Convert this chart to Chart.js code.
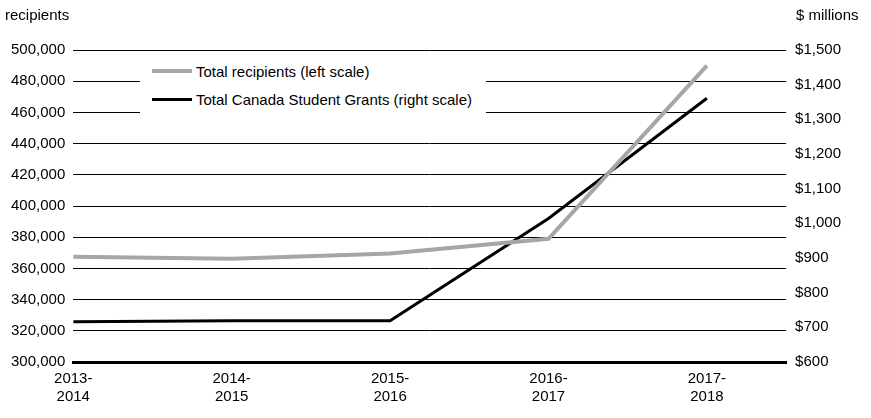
<!DOCTYPE html>
<html>
<head>
<meta charset="utf-8">
<script src="https://cdn.jsdelivr.net/npm/chart.js@4"></script>
<style>
  body { margin: 0; background: #fff; font-family: "Liberation Sans", Arial, sans-serif; }
  #wrap { position: relative; width: 871px; height: 418px; }
  .ttl { position: absolute; top: 6px; font-size: 15px; color: #000; }
  #legend { position: absolute; left: 140px; top: 55px; background: #fff; padding: 2px 14px 2px 12px; font-size: 15px; }
  #legend div { display: flex; align-items: center; height: 28px; }
  #legend span.sw { display: inline-block; width: 40px; margin-right: 4px; }
</style>
</head>
<body>
<div id="wrap">
  <canvas id="c" width="871" height="418"></canvas>
  <div class="ttl" style="left:5px">recipients</div>
  <div class="ttl" style="left:796px">$ millions</div>
  <div id="legend">
    <div><span class="sw" style="border-top:4px solid #a6a6a6"></span>Total recipients (left scale)</div>
    <div><span class="sw" style="border-top:3px solid #000"></span>Total Canada Student Grants (right scale)</div>
  </div>
</div>
<script>
const years = [['2013-', '2014'], ['2014-', '2015'], ['2015-', '2016'], ['2016-', '2017'], ['2017-', '2018']];
const recipients = [367500, 366200, 369500, 379000, 490000];
const grants = [716, 719, 719, 1014, 1361];

const toPoints = arr => arr.map((v, i) => ({ x: i, y: v }));
const font = { family: '"Liberation Sans", Arial, sans-serif', size: 15 };

new Chart(document.getElementById('c').getContext('2d'), {
    type: 'line',
    data: {
        datasets: [{
            label: 'Total recipients (left scale)',
            data: toPoints(recipients),
            borderColor: '#a6a6a6',
            borderWidth: 4,
            pointRadius: 0,
            yAxisID: 'y'
        }, {
            label: 'Total Canada Student Grants (right scale)',
            data: toPoints(grants),
            borderColor: '#000',
            borderWidth: 3,
            pointRadius: 0,
            yAxisID: 'y1'
        }]
    },
    options: {
        responsive: false,
        animation: false,
        layout: { padding: { top: 50, left: 3, right: 21, bottom: 10 } },
        plugins: { legend: { display: false }, tooltip: { enabled: false } },
        scales: {
            x: {
                type: 'linear', min: 0, max: 4.5,
                afterBuildTicks: s => { s.ticks = [0, 1, 2, 3, 4].map(v => ({ value: v })); },
                ticks: { color: '#000', font, maxRotation: 0, padding: 2, callback: v => years[v] },
                grid: { display: false, drawTicks: true, tickLength: 6, tickColor: '#000' },
                border: { color: '#000', width: 3 }
            },
            y: {
                position: 'left', min: 300000, max: 500000,
                ticks: { stepSize: 20000, color: '#000', font, padding: 8, callback: v => v.toLocaleString('en-US') },
                grid: { color: '#000', lineWidth: 1, drawTicks: false },
                border: { display: false }
            },
            y1: {
                position: 'right', min: 600, max: 1500,
                ticks: { stepSize: 100, color: '#000', font, padding: 9, callback: v => '$' + v.toLocaleString('en-US') },
                grid: { display: false, drawTicks: false },
                border: { display: false }
            }
        }
    }
});
</script>
</body>
</html>
